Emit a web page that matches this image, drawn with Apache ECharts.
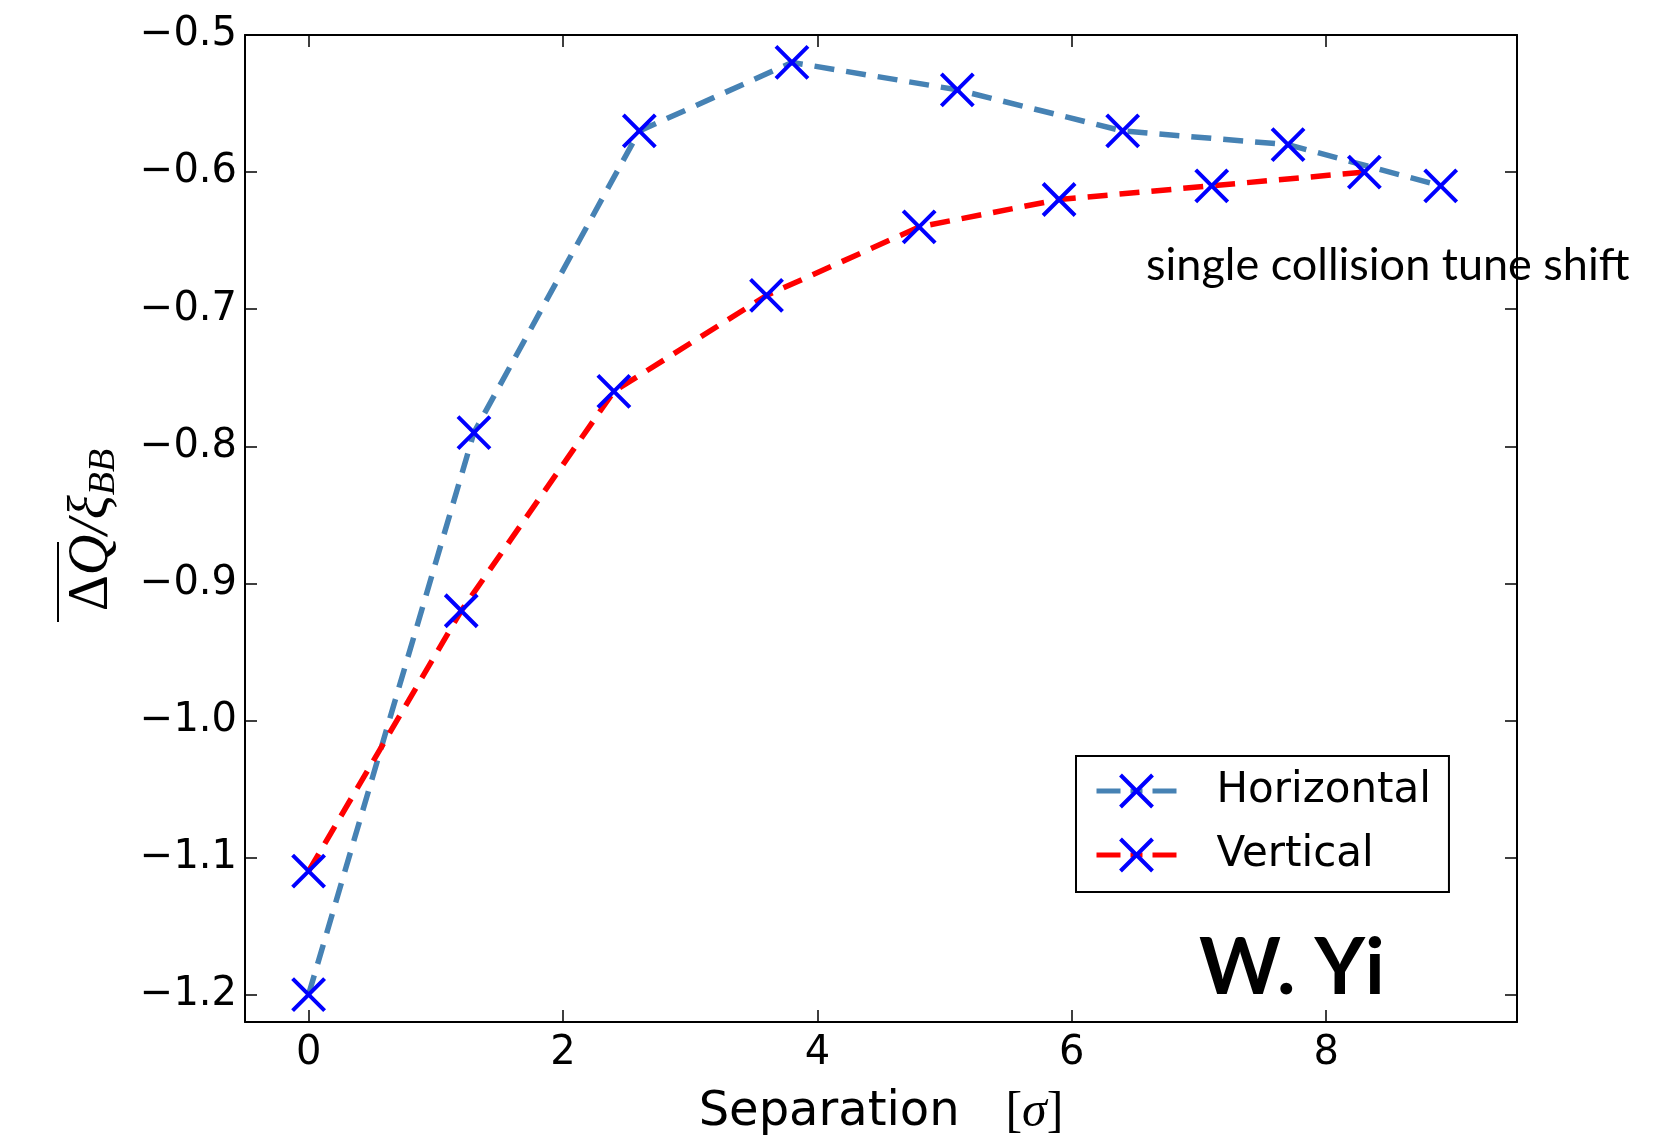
<!DOCTYPE html>
<html>
<head>
<meta charset="utf-8">
<script src="https://cdn.jsdelivr.net/npm/echarts@6/dist/echarts.min.js"></script>
<style>
html,body{margin:0;padding:0;background:#fff}
#main{width:1674px;height:1139px}
</style>
</head>
<body>
<div id="main"></div>
<script>
// separation [sigma] and normalised tune shift
var sepH = [0, 1.3, 2.6, 3.8, 5.1, 6.4, 7.7, 8.9];
var valH = [-1.20, -0.79, -0.57, -0.52, -0.54, -0.57, -0.58, -0.61];
var sepV = [0, 1.2, 2.4, 3.6, 4.8, 5.9, 7.1, 8.3];
var valV = [-1.11, -0.92, -0.76, -0.69, -0.64, -0.62, -0.61, -0.60];
var xTicks = [0, 2, 4, 6, 8];
var yTicks = [-1.2, -1.1, -1.0, -0.9, -0.8, -0.7, -0.6, -0.5];

var chart = echarts.init(document.getElementById('main'));

var crossPath = 'path://M0,0L10,10M10,0L0,10';
var tickFont = 'DejaVu Sans';

function pairs(xs, ys) {
   return xs.map(function (x, i) { return [x, ys[i]]; });
}

var frameLine = {onZero: false, lineStyle: {color: '#000', width: 2}};

var option = {
   animation: false,
   backgroundColor: '#fff',
   grid: {left: 245, right: 157, top: 35, bottom: 117, outerBoundsMode: 'none'},
   legend: {
      data: ['Horizontal', 'Vertical'],
      orient: 'vertical',
      left: 1076,
      top: 756,
      itemWidth: 80,
      itemHeight: 40,
      itemGap: 22,
      padding: [14, 18, 16, 18],
      borderColor: '#000',
      borderWidth: 2,
      borderRadius: 0,
      backgroundColor: '#fff',
      itemStyle: {color: '#0000ff', borderColor: '#0000ff', borderWidth: 4},
      lineStyle: {width: 5, type: [24, 10, 12, 10]},
      textStyle: {fontSize: 42, fontFamily: tickFont, color: '#000', padding: [0, 0, 0, 35]}
   },
   xAxis: [{
      type: 'value', min: -0.5, max: 9.5, position: 'bottom',
      axisLine: frameLine,
      axisTick: {inside: true, length: 12, customValues: xTicks, lineStyle: {color: '#000', width: 1.5}},
      axisLabel: {customValues: xTicks, fontSize: 40, fontFamily: tickFont, color: '#000', margin: 12},
      splitLine: {show: false},
      name: '{a|Separation   }{b|[}{c|σ}{b|]}',
      nameLocation: 'middle',
      nameGap: 66,
      nameTextStyle: {
         rich: {
            a: {fontSize: 48, fontFamily: tickFont, color: '#000'},
            b: {fontSize: 50, fontFamily: 'Liberation Serif', color: '#000'},
            c: {fontSize: 50, fontFamily: 'Liberation Serif', fontStyle: 'italic', color: '#000'}
         }
      }
   }, {
      type: 'value', min: -0.5, max: 9.5, position: 'top',
      axisLine: frameLine,
      axisTick: {inside: true, length: 12, customValues: xTicks, lineStyle: {color: '#000', width: 1.5}},
      axisLabel: {show: false},
      splitLine: {show: false}
   }],
   yAxis: [{
      type: 'value', min: -1.22, max: -0.5, position: 'left',
      axisLine: frameLine,
      axisTick: {inside: true, length: 12, customValues: yTicks, lineStyle: {color: '#000', width: 1.5}},
      axisLabel: {
         customValues: yTicks, fontSize: 40, fontFamily: tickFont, color: '#000', margin: 8,
         formatter: function (v) { return v.toFixed(1).replace('-', '\u2212'); }
      },
      splitLine: {show: false}
   }, {
      type: 'value', min: -1.22, max: -0.5, position: 'right', z: 5,
      axisLine: frameLine,
      axisTick: {inside: true, length: 12, customValues: yTicks, lineStyle: {color: '#000', width: 1.5}},
      axisLabel: {show: false},
      splitLine: {show: false}
   }],
   series: [{
      name: 'Horizontal',
      type: 'line',
      data: pairs(sepH, valH),
      symbol: crossPath,
      symbolSize: 32,
      itemStyle: {color: '#0000ff', borderColor: '#0000ff', borderWidth: 4},
      lineStyle: {color: '#4682b4', width: 5.5, type: [20, 12]}
   }, {
      name: 'Vertical',
      type: 'line',
      data: pairs(sepV, valV),
      symbol: crossPath,
      symbolSize: 32,
      itemStyle: {color: '#0000ff', borderColor: '#0000ff', borderWidth: 4},
      lineStyle: {color: '#ff0000', width: 5.5, type: [20, 12]}
   }],
   graphic: [{
      type: 'group', x: 92, y: 530, rotation: Math.PI / 2,
      children: [{
         type: 'text',
         style: {
            text: '{d|Δ}{q|Q}{s|/}{x|ξ}{b|BB}',
            align: 'center', verticalAlign: 'middle',
            rich: {
               d: {fontSize: 56, fontFamily: 'Liberation Serif', fill: '#000'},
               q: {fontSize: 56, fontFamily: 'Liberation Serif', fontStyle: 'italic', fill: '#000'},
               s: {fontSize: 56, fontFamily: 'Liberation Serif', fontStyle: 'italic', fill: '#000'},
               x: {fontSize: 56, fontFamily: 'Liberation Serif', fontStyle: 'italic', fill: '#000'},
               b: {fontSize: 38, fontFamily: 'Liberation Serif', fontStyle: 'italic', fill: '#000', padding: [24, 0, 0, 0]}
            }
         }
      }, {
         type: 'line',
         shape: {x1: -92, y1: -34, x2: -12, y2: -34},
         style: {stroke: '#000', lineWidth: 2}
      }]
   }, {
      type: 'text', x: 1146, y: 265, z: -1,
      style: {text: 'single collision tune shift', fontSize: 45, fontFamily: 'Lato', fill: '#000', verticalAlign: 'middle'}
   }, {
      type: 'text', x: 1199, y: 969,
      style: {text: 'W. Yi', fontSize: 78, fontWeight: 'bold', fontFamily: 'Lato', fill: '#000', verticalAlign: 'middle'}
   }]
};

chart.setOption(option);
</script>
</body>
</html>
